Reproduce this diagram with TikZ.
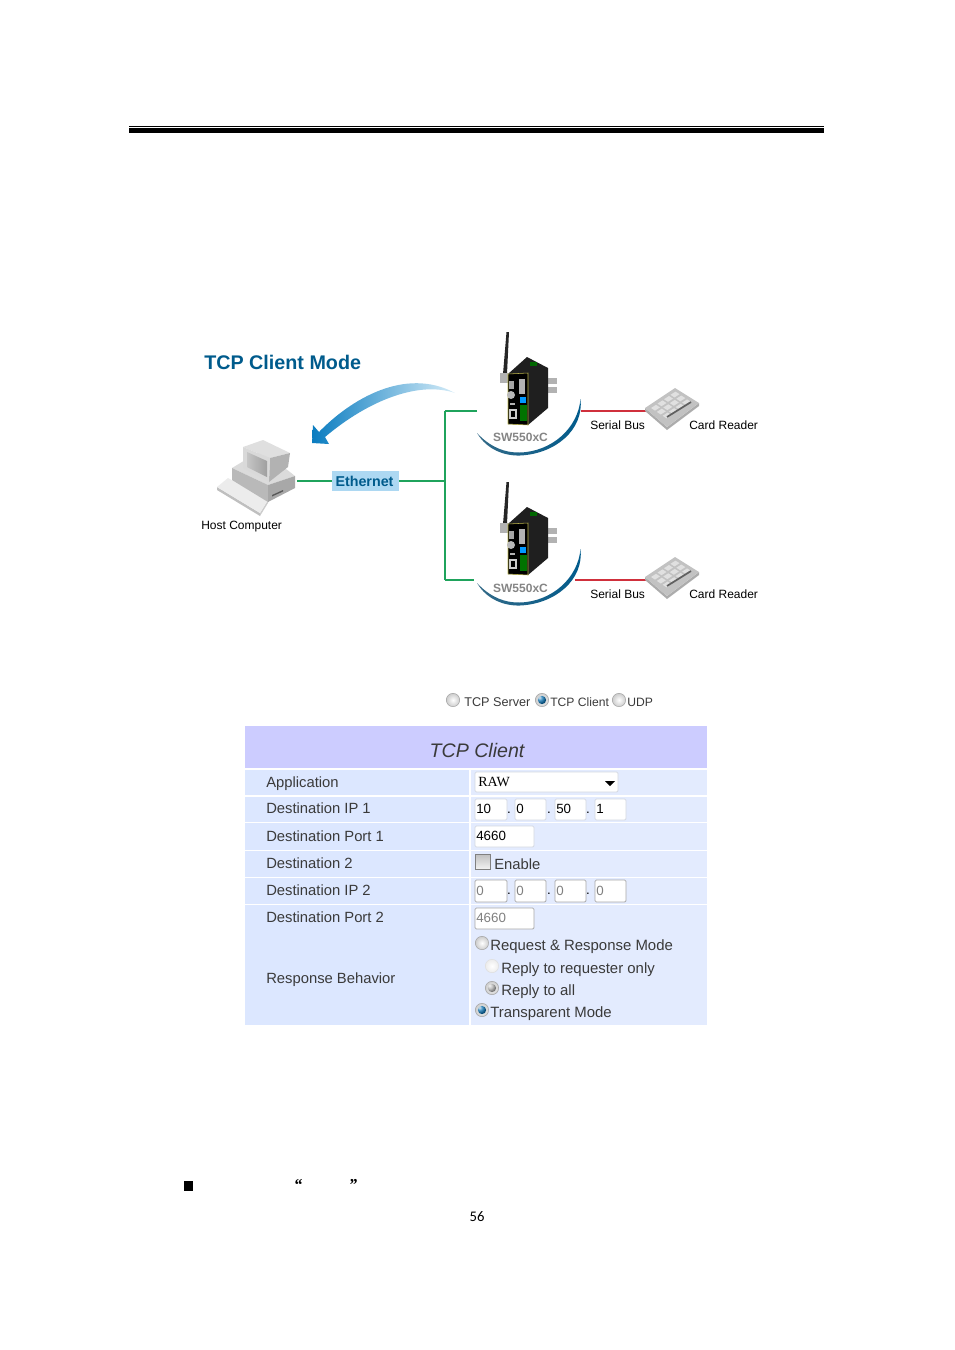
\documentclass[tikz,border=0pt]{standalone}
\usepackage{fontspec}
\setmainfont{Liberation Sans}
\newfontfamily\pagefont{Carlito}
\newfontfamily\serifform{Liberation Serif}
\usetikzlibrary{graphs, positioning, shadings}

\definecolor{titleblue}{HTML}{005B8C}
\definecolor{linkgreen}{HTML}{1FA35C}
\definecolor{busred}{HTML}{D0303C}
\definecolor{labelblue}{HTML}{ADD8F2}
\definecolor{swooshblue}{HTML}{0A7CC0}
\definecolor{swooshmid}{HTML}{1486C8}
\definecolor{swooshend}{HTML}{D5ECF8}
\definecolor{headbar}{HTML}{CCCCFF}
\definecolor{rowdark}{HTML}{DCE7FF}
\definecolor{rowlight}{HTML}{E3EBFE}
\definecolor{formtext}{HTML}{3A3A3A}
\definecolor{boxedge}{HTML}{D4D8E0}
\definecolor{boxedgeoff}{HTML}{A8A8A8}
\definecolor{modelgray}{HTML}{858585}
\definecolor{radioblue}{HTML}{0A6FAE}

\tikzset{
    plain label/.style={inner sep=0pt, font=\fontsize{9}{9}\selectfont, text height=6.5pt, text depth=0pt},
    model label/.style={plain label, text=modelgray, font=\bfseries\fontsize{9}{9}\selectfont},
    form label/.style={anchor=west, inner sep=0pt, text=formtext, font=\fontsize{11.1}{11.1}\selectfont, text height=8pt, text depth=0pt},
    radio text/.style={form label, font=\fontsize{11.2}{11.2}\selectfont},
    top text/.style={form label, font=\fontsize{9.5}{9.5}\selectfont, text height=7pt},
    value text/.style={anchor=west, inner sep=0pt, text=black, font=\fontsize{10}{10}\selectfont, text height=7pt, text depth=0pt},
    value off/.style={value text, text=gray},
    input box/.style={draw=boxedge, fill=white, rounded corners=1pt, line width=.6pt},
    input off/.style={input box, draw=boxedgeoff},
    radio/.style={circle, draw=gray!70, inner sep=0pt, minimum size=10pt, line width=.4pt, inner color=white, outer color=gray!40},
    radio dim/.style={radio, draw=gray!25, inner color=white, outer color=gray!15},
    radio on/.style={radio, path picture={\shade[ball color=#1] (path picture bounding box.center) circle (3.1pt);}},
    sw device/.pic={
        % antenna
        \fill[black!85] (506.5,332) -- (509,332) -- (507,374) -- (503,374) -- cycle;
        % din rail
        \fill[gray!60] (500,373) rectangle (508,383);
        \fill[gray!60] (547,378) rectangle (557,384);
        \fill[gray!60] (547,387) rectangle (557,393);
        % housing
        \fill[black!88] (508,374) -- (527,357) -- (548,368) -- (548,408) -- (528,425) -- (508,424) -- cycle;
        \fill[black] (508,374) -- (528,373) -- (528,425) -- (508,424) -- cycle;
        \draw[olive!60, line width=.4pt] (508,374) -- (528,373) -- (528,425) -- (508,424) -- cycle;
        \fill[green!40!black] (530,362) rectangle (537,366);
        % connectors and leds
        \fill[gray!60] (519,379) rectangle (525,394);
        \fill[gray!70] (509,381) rectangle (514,389);
        \fill[gray!55] (511,395) circle (3pt);
        \fill[gray!60] (510,403) rectangle (515,405);
        \fill[blue!40!cyan] (520,397) rectangle (526,403);
        \fill[gray!40] (509,409) rectangle (517,419);
        \fill[black] (511,411) rectangle (515,417);
        \fill[green!45!black] (520,405) rectangle (527,421);
        % swoosh
        \shade[left color=titleblue!60!gray, right color=titleblue] (477,433)
            .. controls (487,450) and (505,456) .. (520,455.5)
            .. controls (555,454) and (584,430) .. (580.5,399)
            .. controls (578,428) and (552,451.5) .. (520,452.5)
            .. controls (505,453) and (490,447) .. (477,433) -- cycle;
    },
    card reader/.pic={
        \fill[gray!65] (645,408) -- (667,427) -- (699,403) -- (699,406) -- (667,430) -- (645,411) -- cycle;
        \fill[gray!48] (645,408) -- (675,388) -- (699,403) -- (667,427) -- cycle;
        \foreach \u in {0,1,2,3}
            \foreach \v in {0,1,2}
                \fill[gray!24] (651+\u*6.5+\v*5.8,408-\u*4.4+\v*3.9) -- ++(5,-3.2) -- ++(4,2.6) -- ++(-5,3.2) -- cycle;
        \draw[gray!75!black, line width=1.3pt] (667,417) -- (691,402);
    },
}

\begin{document}
\begin{tikzpicture}[x=.75pt, y=-.75pt]
    \useasboundingbox (0,0) rectangle (954,1350);

    % page rule
    \fill[black] (129,126) rectangle (824,127);
    \fill[black] (129,128) rectangle (824,133);

    % network part
    \node[anchor=west, inner sep=0pt, text=titleblue, font=\bfseries\fontsize{14.8}{14.8}\selectfont, text height=10.5pt, text depth=0pt] (Mode Title) at (204,362) {TCP Client Mode};

    \shade[left color=swooshblue, middle color=swooshmid, right color=swooshend] (312,443) -- (313,425) -- (319,432)
        .. controls (350,400) and (405,366) .. (455,393)
        .. controls (420,381) and (370,399) .. (325,437) -- (329,444) -- cycle;

    \node[minimum width=60pt, minimum height=60pt, inner sep=0pt] (Host Computer) at (257,481) {};
    \fill[gray!50] (217,487) -- (260,513) -- (260,516) -- (217,490) -- cycle;
    \fill[gray!40] (260,513) -- (268,500) -- (268,503) -- (260,516) -- cycle;
    \fill[gray!15] (217,487) -- (228,478) -- (268,500) -- (260,513) -- cycle;
    \fill[gray!28] (232,468) -- (262,450) -- (295,476) -- (268,485) -- cycle;
    \fill[gray!55] (232,468) -- (268,485) -- (268,502) -- (232,480) -- cycle;
    \fill[gray!68] (268,485) -- (295,476) -- (295,488) -- (268,502) -- cycle;
    \fill[gray!70!black] (272,495) -- (283,490) -- (283,491.5) -- (272,496.5) -- cycle;
    \fill[gray!25] (243,447) -- (263,440) -- (290,453) -- (270,458) -- cycle;
    \fill[gray!60] (270,458) -- (290,453) -- (288,467) -- (269,482) -- cycle;
    \fill[gray!30] (243,447) -- (270,458) -- (269,482) -- (243,468) -- cycle;
    \shade[left color=gray!45, middle color=gray!5, right color=gray!75] (247,452) -- (267,461) -- (267,477) -- (247,467) -- cycle;
    \node[plain label, anchor=west] (Host Label) at (201,525) {Host Computer};

    \node[fill=labelblue, inner sep=0pt, minimum width=50.5pt, minimum height=15pt, text=titleblue, font=\bfseries\fontsize{10.7}{10.7}\selectfont] (Ethernet) at (365.5,481) {Ethernet\kern1.5pt};

    \coordinate (Junction) at (445,481);
    \coordinate (Elbow Top) at (445,411);
    \coordinate (Elbow Bottom) at (445,580);
    \coordinate (Device Top) at (477,411);
    \coordinate (Device Bottom) at (474,580);
    \coordinate (Bus Top) at (581,411);
    \coordinate (Bus Bottom) at (575,580);
    \coordinate (Reader Top) at (646,411);
    \coordinate (Reader Bottom) at (646,580);

    \graph[edges={linkgreen, line width=1.4pt}]{
        (Host Computer.east) -- (Ethernet) -- (Junction);
        (Device Top) -- (Elbow Top) -- (Elbow Bottom) -- (Device Bottom);
    };
    \graph[edges={busred, line width=1.4pt}]{
        (Bus Top) -- (Reader Top);
        (Bus Bottom) -- (Reader Bottom);
    };

    \pic (Device A) at (0,0) {sw device};
    \pic (Device B) at (0,150) {sw device};
    \pic (Reader A) at (0,0) {card reader};
    \pic (Reader B) at (0,169) {card reader};

    \node[model label] (Model A) at (520.5,437) {SW550xC};
    \node[model label] (Model B) at (520.5,588) {SW550xC};
    \node[plain label, anchor=west] (Serial A) at (590,425) {Serial Bus};
    \node[plain label, anchor=west] (Serial B) at (590,594) {Serial Bus};
    \node[plain label, anchor=west] (Card A) at (689,425) {Card Reader};
    \node[plain label, anchor=west] (Card B) at (689,594) {Card Reader};

    % mode selector
    \node[radio] (Radio Server) at (453,700) {};
    \node[top text] (Text Server) at (464,702) {TCP Server};
    \node[radio on=radioblue] (Radio Client) at (542,700) {};
    \node[top text, font=\fontsize{9.1}{9.1}\selectfont] (Text Client) at (550,702) {TCP Client};
    \node[radio] (Radio Udp) at (619,700) {};
    \node[top text, font=\fontsize{9.1}{9.1}\selectfont] (Text Udp) at (627,702) {UDP};

    % form background
    \fill[headbar] (245,726) rectangle (707,768);
    \node[inner sep=0pt, text=formtext, font=\itshape\fontsize{14.7}{14.7}\selectfont] (Form Title) at (477,750) {TCP Client};
    \foreach \top/\bot in {770/795, 797/822, 823/850, 851/877, 878/904, 905/1025}{
        \fill[rowdark] (245,\top) rectangle (469,\bot);
        \fill[rowlight] (471,\top) rectangle (707,\bot);
    }

    % left column
    \foreach \name/\y/\txt in {Application/782/Application, Ip One/808/Destination IP 1, Port One/836/Destination Port 1, Dest Two/863/Destination 2, Ip Two/890/Destination IP 2, Port Two/917/Destination Port 2, Behavior/978/Response Behavior}
        \node[form label] (Label \name) at (266,\y) {\txt};

    % right column
    \path[input box] (475,772) rectangle (618,792);
    \node[anchor=west, inner sep=0pt, font=\serifform\fontsize{10.5}{10.5}\selectfont, text height=7pt, text depth=0pt] (Raw Value) at (478,782) {RAW};
    \fill[black] (605,781) -- (615,781) -- (610,786) -- cycle;

    \foreach \n/\xa/\xb/\val in {1/475/507/10, 2/515/546/0, 3/555/586/50, 4/595/626/1}{
        \path[input box] (\xa,799) rectangle (\xb,820);
        \node[value text] (Ip One Val \n) at (\xa+1,809) {\val};
        \path[input off] (\xa,880) rectangle (\xb,902);
        \node[value off] (Ip Two Val \n) at (\xa+1,891) {0};
    }
    \foreach \n/\xd in {1/509, 2/549, 3/588}{
        \node[inner sep=0pt, font=\fontsize{10}{10}\selectfont] (Dot One \n) at (\xd,813) {.};
        \node[inner sep=0pt, font=\fontsize{10}{10}\selectfont] (Dot Two \n) at (\xd,894) {.};
    }
    \path[input box] (475,826) rectangle (534,847);
    \node[value text] (Port One Val) at (476,836) {4660};
    \path[input off] (475,908) rectangle (534,929);
    \node[value off] (Port Two Val) at (476,918) {4660};

    \shade[top color=gray!50, bottom color=gray!10, draw=gray] (475,854) rectangle (490,869);
    \node[form label] (Enable Text) at (494,864) {Enable};

    \node[radio] (Radio Request) at (482,943) {};
    \node[radio text] (Text Request) at (490,945) {Request \& Response Mode};
    \node[radio dim] (Radio Requester) at (492,966) {};
    \node[radio text] (Text Requester) at (501,968) {Reply to requester only};
    \node[radio on=gray!60] (Radio All) at (492,988) {};
    \node[radio text] (Text All) at (501,990) {Reply to all};
    \node[radio on=radioblue] (Radio Transparent) at (482,1010) {};
    \node[radio text] (Text Transparent) at (490,1012) {Transparent Mode};

    % page foot
    \fill[black] (184,1181) rectangle (193,1191);
    \node[inner sep=0pt, font=\serifform\bfseries\itshape\fontsize{12.5}{12.5}\selectfont] (Quote Open) at (298,1185) {“};
    \node[inner sep=0pt, font=\serifform\bfseries\itshape\fontsize{12.5}{12.5}\selectfont] (Quote Close) at (353,1185) {”};
    \node[inner sep=0pt, font=\pagefont\fontsize{11}{11}\selectfont] (Page Number) at (477,1217) {56};
\end{tikzpicture}
\end{document}
